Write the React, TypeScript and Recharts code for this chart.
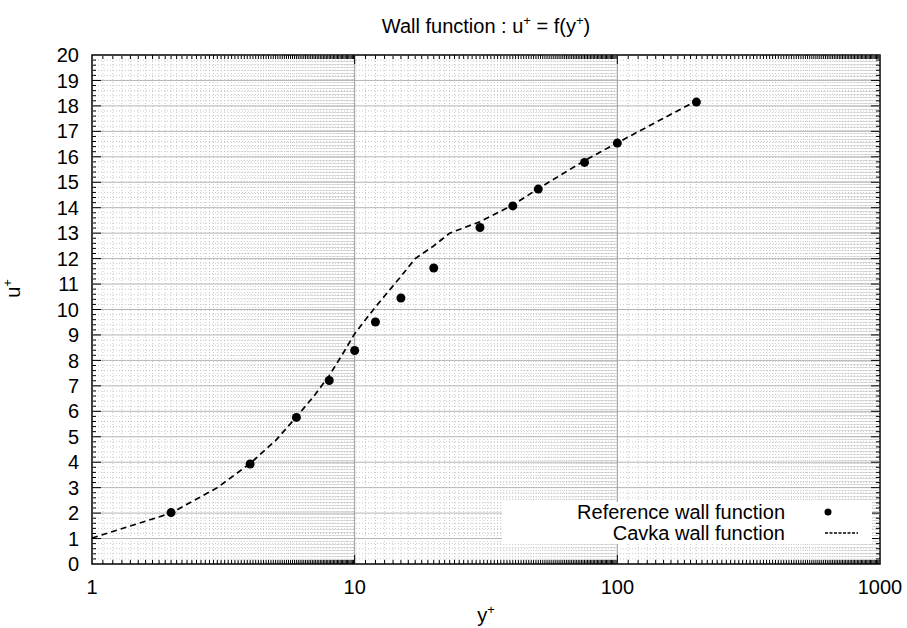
import { ComposedChart, Line, Scatter, XAxis, YAxis, ReferenceLine, ReferenceArea } from "recharts";

// Cavka wall function (dashed line)
const cavkaYPlus = [1, 2, 3, 4, 5, 6, 7, 8, 9, 10, 12, 15, 17, 20, 23, 30, 40, 50, 75, 100, 200];
const cavkaUPlus = [1.02, 2.0, 3.0, 3.95, 4.85, 5.78, 6.6, 7.4, 8.25, 9.05, 10.1, 11.3, 12.0, 12.5, 13.0, 13.45, 14.1, 14.75, 15.85, 16.55, 18.2];

// Reference wall function (dots)
const refYPlus = [2, 4, 6, 8, 10, 12, 15, 20, 30, 40, 50, 75, 100, 200];
const refUPlus = [2.02, 3.93, 5.76, 7.21, 8.39, 9.51, 10.45, 11.63, 13.22, 14.07, 14.73, 15.78, 16.54, 18.15];

const xTicks = [1, 10, 100, 1000];
const yTicks = [0, 1, 2, 3, 4, 5, 6, 7, 8, 9, 10, 11, 12, 13, 14, 15, 16, 17, 18, 19, 20];
const xMajorGrid = [10, 100];
const yMajorGrid = [1, 2, 3, 4, 5, 6, 7, 8, 9, 10, 11, 12, 13, 14, 15, 16, 17, 18, 19];
const decades = [1, 10, 100];

const legendNames = ["Reference wall function", "Cavka wall function"];

const cavkaData = cavkaYPlus.map((x, i) => ({ x, u: cavkaUPlus[i] }));
const refData = refYPlus.map((x, i) => ({ x, u: refUPlus[i] }));

// minor ticks: every 0.1 of a decade on x, every 0.2 on y
const xMinor: number[] = [];
decades.forEach((d) => {
  for (let k = 11; k < 100; k++) xMinor.push((d * k) / 10);
});
const yMinor: number[] = [];
for (let i = 1; i < 100; i++) if (i % 5 !== 0) yMinor.push(i / 5);

const FONT = '"Liberation Sans", Arial, Helvetica, sans-serif';

const vLine = (major: boolean) => (p: any) => {
  const top = Math.min(p.y1, p.y2);
  const bottom = Math.max(p.y1, p.y2);
  const len = major ? 9 : 4;
  return (
    <g>
      <line x1={p.x1} x2={p.x1} y1={top} y2={bottom} stroke={major ? "#999" : "#c8c8c8"} strokeDasharray={major ? undefined : "1 2"} strokeWidth={1} />
      <line x1={p.x1} x2={p.x1} y1={bottom} y2={bottom - len} stroke="#000" strokeWidth={1} />
      <line x1={p.x1} x2={p.x1} y1={top} y2={top + len} stroke="#000" strokeWidth={1} />
    </g>
  );
};

const hLine = (major: boolean) => (p: any) => {
  const left = Math.min(p.x1, p.x2);
  const right = Math.max(p.x1, p.x2);
  const len = major ? 9 : 4;
  return (
    <g>
      <line x1={left} x2={right} y1={p.y1} y2={p.y1} stroke={major ? "#b4b4b4" : "#c8c8c8"} strokeDasharray={major ? undefined : "1 2"} strokeWidth={1} />
      <line x1={left} x2={left + len} y1={p.y1} y2={p.y1} stroke="#000" strokeWidth={1} />
      <line x1={right - len} x2={right} y1={p.y1} y2={p.y1} stroke="#000" strokeWidth={1} />
    </g>
  );
};

function XLabel(props: any) {
  const { x, y, width } = props.viewBox;
  return (
    <text x={x + width / 2} y={y + 58} textAnchor="middle" fontSize={20} fontFamily={FONT} fill="#000">
      y<tspan dy={-8} fontSize={13}>+</tspan>
    </text>
  );
}

function YLabel(props: any) {
  const { x, y, height } = props.viewBox;
  const cx = x + 20;
  const cy = y + height / 2 - 21;
  return (
    <text x={cx} y={cy} transform={`rotate(-90 ${cx} ${cy})`} textAnchor="middle" fontSize={20} fontFamily={FONT} fill="#000">
      u<tspan dy={-8} fontSize={13}>+</tspan>
    </text>
  );
}

function LegendBox() {
  const row = { position: "absolute" as const, right: 87, fontSize: 20, lineHeight: "21px", whiteSpace: "nowrap" as const };
  return (
    <div style={{ position: "absolute", left: 502, top: 502, width: 370, height: 42, background: "#fff", fontFamily: FONT, color: "#000" }}>
      <div style={{ ...row, top: 0 }}>{legendNames[0]}</div>
      <div style={{ ...row, top: 21 }}>{legendNames[1]}</div>
      <svg width={40} height={42} style={{ position: "absolute", left: 320, top: 0 }}>
        <circle cx={6} cy={10} r={3.5} fill="#000" />
        <line x1={3} x2={36} y1={31} y2={31} stroke="#000" strokeWidth={1.5} strokeDasharray="3 1.5" />
      </svg>
    </div>
  );
}

export default function App() {
  return (
    <div style={{ position: "absolute", left: 0, top: 0, width: 907, height: 628, background: "#fff", fontFamily: FONT }}>
      <div style={{ position: "absolute", left: 92, top: 16, width: 788, textAlign: "center", fontSize: 20, lineHeight: "20px", color: "#000" }}>
        Wall function : u<sup style={{ fontSize: 13, lineHeight: 0 }}>+</sup> = f(y<sup style={{ fontSize: 13, lineHeight: 0 }}>+</sup>)
      </div>
      <ComposedChart width={907} height={628} margin={{ top: 55, right: 27, bottom: 0, left: 0 }}>
        <XAxis
          dataKey="x"
          type="number"
          scale="log"
          domain={[1, 1000]}
          ticks={xTicks}
          interval={0}
          allowDataOverflow
          axisLine={false}
          tickLine={false}
          tickSize={0}
          tickMargin={16}
          height={64}
          tick={{ fill: "#000", fontSize: 20, fontFamily: FONT }}
          label={<XLabel />}
        />
        <YAxis
          dataKey="u"
          type="number"
          domain={[0, 20]}
          ticks={yTicks}
          interval={0}
          allowDataOverflow
          axisLine={false}
          tickLine={false}
          tickSize={0}
          tickMargin={13}
          width={92}
          tick={{ fill: "#000", fontSize: 20, fontFamily: FONT }}
          label={<YLabel />}
        />
        {xMinor.map((v) => (
          <ReferenceLine key={`xm${v}`} x={v} shape={vLine(false)} />
        ))}
        {yMinor.map((v) => (
          <ReferenceLine key={`ym${v}`} y={v} shape={hLine(false)} />
        ))}
        {yMajorGrid.map((v) => (
          <ReferenceLine key={`yM${v}`} y={v} shape={hLine(true)} />
        ))}
        {xMajorGrid.map((v) => (
          <ReferenceLine key={`xM${v}`} x={v} shape={vLine(true)} />
        ))}
        <ReferenceArea x1={1} x2={1000} y1={0} y2={20} fill="none" stroke="#000" strokeWidth={1.5} />
        <Line
          data={cavkaData}
          dataKey="u"
          name={legendNames[1]}
          type="linear"
          stroke="#000"
          strokeWidth={1.7}
          strokeDasharray="6 4"
          dot={false}
          activeDot={false}
          isAnimationActive={false}
        />
        <Scatter
          data={refData}
          dataKey="u"
          name={legendNames[0]}
          fill="#000"
          shape={(p: any) => <circle cx={p.cx} cy={p.cy} r={4.5} fill="#000" />}
          isAnimationActive={false}
        />
      </ComposedChart>
      <LegendBox />
    </div>
  );
}
